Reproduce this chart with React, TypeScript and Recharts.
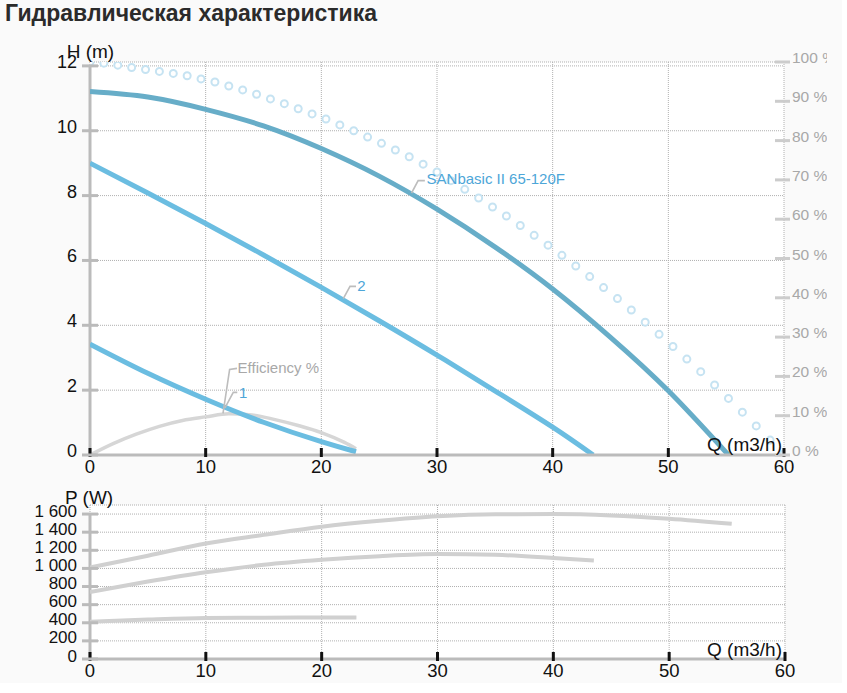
import React from 'react';
import { LineChart, Line, XAxis, YAxis, CartesianGrid, ReferenceLine, ReferenceDot } from 'recharts';

const FONT = '"Liberation Sans", Arial, sans-serif';

// ---- ticks ----
const qTicks = [0, 10, 20, 30, 40, 50, 60];
const hTicks = [0, 2, 4, 6, 8, 10, 12];
const pctTicks = [0, 10, 20, 30, 40, 50, 60, 70, 80, 90, 100];
const pTicks = [0, 200, 400, 600, 800, 1000, 1200, 1400, 1600];
const pTickLabels = ['0', '200', '400', '600', '800', '1 000', '1 200', '1 400', '1 600'];

// ---- head curves H (m) vs Q (m3/h) ----
const headMax = [
  { q: 0, h: 11.21 }, { q: 5, h: 11.04 }, { q: 10, h: 10.66 }, { q: 15, h: 10.15 },
  { q: 20, h: 9.45 }, { q: 25, h: 8.6 }, { q: 30, h: 7.58 }, { q: 35, h: 6.42 },
  { q: 40, h: 5.12 }, { q: 45, h: 3.63 }, { q: 50, h: 1.98 }, { q: 55.2, h: 0 },
];
const head2 = [
  { q: 0, h: 9.0 }, { q: 5, h: 8.08 }, { q: 10, h: 7.14 }, { q: 15, h: 6.17 },
  { q: 20, h: 5.17 }, { q: 25, h: 4.14 }, { q: 30, h: 3.08 }, { q: 35, h: 1.98 },
  { q: 40, h: 0.86 }, { q: 43.5, h: 0 },
];
const head1 = [
  { q: 0, h: 3.42 }, { q: 5, h: 2.52 }, { q: 10, h: 1.72 }, { q: 15, h: 1.01 },
  { q: 20, h: 0.41 }, { q: 23, h: 0.1 },
];

// ---- efficiency (%) ----
const eff1 = [
  { q: 0, e: 0 }, { q: 2, e: 2.9 }, { q: 4, e: 5.3 }, { q: 6, e: 7.3 }, { q: 8, e: 8.8 },
  { q: 10, e: 9.7 }, { q: 12, e: 10.5 }, { q: 14, e: 10.2 }, { q: 16, e: 9.0 },
  { q: 18, e: 7.5 }, { q: 20, e: 5.7 }, { q: 22, e: 3.2 }, { q: 23, e: 1.6 },
];
const effCircles = [
  { q: 0, e: 100 }, { q: 1.2, e: 99.7 }, { q: 2.4, e: 99.2 }, { q: 3.6, e: 98.6 }, { q: 4.8, e: 98.1 },
  { q: 6, e: 97.6 }, { q: 7.2, e: 97.1 }, { q: 8.4, e: 96.5 }, { q: 9.6, e: 95.7 }, { q: 10.8, e: 94.9 },
  { q: 12, e: 93.9 }, { q: 13.2, e: 92.9 }, { q: 14.4, e: 91.8 }, { q: 15.6, e: 90.6 }, { q: 16.8, e: 89.4 },
  { q: 18, e: 88.1 }, { q: 19.2, e: 86.8 }, { q: 20.4, e: 85.5 }, { q: 21.6, e: 84.0 }, { q: 22.8, e: 82.5 },
  { q: 24, e: 80.9 }, { q: 25.2, e: 79.3 }, { q: 26.4, e: 77.6 }, { q: 27.6, e: 75.9 }, { q: 28.8, e: 74.0 },
  { q: 30, e: 72.0 }, { q: 31.2, e: 69.8 }, { q: 32.4, e: 67.6 }, { q: 33.6, e: 65.4 }, { q: 34.8, e: 63.1 },
  { q: 36, e: 60.8 }, { q: 37.2, e: 58.4 }, { q: 38.4, e: 55.9 }, { q: 39.6, e: 53.4 }, { q: 40.8, e: 50.8 },
  { q: 42, e: 48.1 }, { q: 43.2, e: 45.4 }, { q: 44.4, e: 42.6 }, { q: 45.6, e: 39.8 }, { q: 46.8, e: 36.9 },
  { q: 48, e: 33.8 }, { q: 49.2, e: 30.7 }, { q: 50.4, e: 27.6 }, { q: 51.6, e: 24.4 }, { q: 52.8, e: 21.2 },
  { q: 54, e: 17.8 }, { q: 55.2, e: 14.4 }, { q: 56.4, e: 10.9 }, { q: 57.6, e: 7.4 }, { q: 58.8, e: 3.8 },
  { q: 60, e: 0.3 },
];

// ---- power P (W) ----
const powerMax = [
  { q: 0, p: 1010 }, { q: 5, p: 1140 }, { q: 10, p: 1275 }, { q: 15, p: 1370 },
  { q: 20, p: 1460 }, { q: 25, p: 1525 }, { q: 30, p: 1575 }, { q: 35, p: 1598 },
  { q: 40, p: 1600 }, { q: 45, p: 1585 }, { q: 50, p: 1548 }, { q: 55.4, p: 1492 },
];
const power2 = [
  { q: 0, p: 740 }, { q: 5, p: 855 }, { q: 10, p: 958 }, { q: 15, p: 1040 },
  { q: 20, p: 1095 }, { q: 25, p: 1135 }, { q: 30, p: 1158 }, { q: 35, p: 1150 },
  { q: 40, p: 1115 }, { q: 43.5, p: 1087 },
];
const power1 = [
  { q: 0, p: 412 }, { q: 5, p: 435 }, { q: 10, p: 452 }, { q: 15, p: 456 },
  { q: 20, p: 458 }, { q: 23, p: 457 },
];

// ---- label anchor points ----
const labelMax = { q: 27.8, h: 8.08, text: 'SANbasic II 65-120F' };
const label2 = { q: 21.9, h: 4.82, text: '2' };
const label1 = { q: 11.67, h: 1.45, text: '1' };
const labelEff = { q: 11.5, e: 10.6, text: 'Efficiency %' };

const LeftTick = (props: any) => {
  const { x, y, payload } = props;
  return (
    <g>
      <line x1={x - 8} x2={x + 8} y1={y} y2={y} stroke="#bbbbbb" strokeWidth={3} />
      <text x={x - 13} y={y + 2} textAnchor="end" fontSize={18} fill="#111" fontFamily={FONT}>
        {payload.value}
      </text>
    </g>
  );
};

const PowerTick = (props: any) => {
  const { x, y, payload } = props;
  const idx = pTicks.indexOf(payload.value);
  return (
    <g>
      <line x1={x - 8} x2={x + 8} y1={y} y2={y} stroke="#bbbbbb" strokeWidth={3} />
      <text x={x - 13} y={y + 2.5} textAnchor="end" fontSize={17} fill="#111" fontFamily={FONT}>
        {idx >= 0 ? pTickLabels[idx] : payload.value}
      </text>
    </g>
  );
};

const RightTick = (props: any) => {
  const { x, y, payload } = props;
  return (
    <g>
      <line x1={x - 9} x2={x + 6} y1={y} y2={y} stroke="#cccccc" strokeWidth={3} />
      <text x={x + 8} y={y + 1} textAnchor="start" fontSize={15.5} fill="#a8a8a8" fontFamily={FONT}>
        {payload.value + ' %'}
      </text>
    </g>
  );
};

const XTick = (props: any) => {
  const { x, y, payload } = props;
  return (
    <g>
      <line x1={x} x2={x} y1={y - 7} y2={y + 2} stroke="#111" strokeWidth={3} />
      <text x={x} y={y + 18} textAnchor="middle" fontSize={18.5} fill="#111" fontFamily={FONT}>
        {payload.value}
      </text>
    </g>
  );
};

const leader = (text: string, color: string, p1: [number, number], p2: [number, number], t: [number, number]) =>
  (props: any) => {
    const { cx, cy } = props;
    if (cx == null || cy == null) return <g />;
    return (
      <g>
        <polyline
          points={`${cx},${cy} ${cx + p1[0]},${cy + p1[1]} ${cx + p2[0]},${cy + p2[1]}`}
          fill="none"
          stroke="#bdbdbd"
          strokeWidth={1.6}
        />
        <text x={cx + t[0]} y={cy + t[1]} fontSize={15} fill={color} fontFamily={FONT}>
          {text}
        </text>
      </g>
    );
  };

const titleStyle = (left: number, top: number): React.CSSProperties => ({
  position: 'absolute',
  left,
  top,
  fontSize: 19,
  lineHeight: '19px',
  color: '#111',
  whiteSpace: 'nowrap',
  fontFamily: FONT,
});

export default function App() {
  return (
    <div
      style={{
        position: 'absolute',
        left: 0,
        top: 0,
        width: 842,
        height: 683,
        background: '#fafafa',
        fontFamily: FONT,
        overflow: 'hidden',
      }}
    >
      <div
        style={{
          position: 'absolute',
          left: 5,
          top: 2,
          fontSize: 23,
          lineHeight: '23px',
          fontWeight: 'bold',
          color: '#2b2b2b',
          whiteSpace: 'nowrap',
          fontFamily: FONT,
        }}
      >
        Гидравлическая характеристика
      </div>

      <div style={{ position: 'absolute', left: 0, top: 30 }}>
        <LineChart width={827} height={470} margin={{ top: 32, right: 42, bottom: 44, left: 89 }}>
          <CartesianGrid
            yAxisId="h"
            fill="#ffffff"
            fillOpacity={1}
            stroke="#b0b0b0"
            strokeDasharray="1 1"
          />
          <XAxis
            dataKey="q"
            type="number"
            domain={[0, 60]}
            ticks={qTicks}
            allowDataOverflow
            height={1}
            tickSize={0}
            tickMargin={0}
            tickLine={false}
            interval={0}
            axisLine={{ stroke: '#bbbbbb', strokeWidth: 3 }}
            tick={<XTick />}
          />
          <YAxis
            yAxisId="h"
            type="number"
            domain={[0, 12.12]}
            ticks={hTicks}
            allowDataOverflow
            width={1}
            tickSize={0}
            tickMargin={0}
            tickLine={false}
            interval={0}
            axisLine={false}
            tick={<LeftTick />}
          />
          <YAxis
            yAxisId="pct"
            orientation="right"
            type="number"
            domain={[0, 100]}
            ticks={pctTicks}
            allowDataOverflow
            width={1}
            tickSize={0}
            tickMargin={0}
            tickLine={false}
            interval={0}
            axisLine={false}
            tick={<RightTick />}
          />
          <ReferenceLine
            yAxisId="h"
            segment={[{ x: 0, y: 0 }, { x: 0, y: 12 }]}
            stroke="#bbbbbb"
            strokeWidth={3}
          />
          <Line
            yAxisId="pct"
            data={effCircles}
            dataKey="e"
            type="linear"
            stroke="none"
            dot={{ r: 3.5, stroke: '#c6e3f2', strokeWidth: 2, fill: '#ffffff' }}
            activeDot={false}
            isAnimationActive={false}
          />
          <Line
            yAxisId="pct"
            data={eff1}
            dataKey="e"
            type="monotone"
            stroke="#d6d6d6"
            strokeWidth={3.5}
            dot={false}
            activeDot={false}
            isAnimationActive={false}
          />
          <Line
            yAxisId="h"
            data={head1}
            dataKey="h"
            type="natural"
            stroke="#6bbde1"
            strokeWidth={5}
            dot={false}
            activeDot={false}
            isAnimationActive={false}
          />
          <Line
            yAxisId="h"
            data={head2}
            dataKey="h"
            type="natural"
            stroke="#6bbde1"
            strokeWidth={5}
            dot={false}
            activeDot={false}
            isAnimationActive={false}
          />
          <Line
            yAxisId="h"
            data={headMax}
            dataKey="h"
            type="natural"
            stroke="#67adc8"
            strokeWidth={5}
            dot={false}
            activeDot={false}
            isAnimationActive={false}
          />
          <ReferenceDot
            yAxisId="h"
            x={labelMax.q}
            y={labelMax.h}
            r={0}
            shape={leader(labelMax.text, '#4da6d8', [6.6, -12.4], [13.3, -12.4], [15, -9])}
          />
          <ReferenceDot
            yAxisId="h"
            x={label2.q}
            y={label2.h}
            r={0}
            shape={leader(label2.text, '#4da6d8', [6.7, -12.3], [12.7, -12.3], [14, -8])}
          />
          <ReferenceDot
            yAxisId="h"
            x={label1.q}
            y={label1.h}
            r={0}
            shape={leader(label1.text, '#4da6d8', [8.3, -15.6], [12.3, -15.6], [14, -9.5])}
          />
          <ReferenceDot
            yAxisId="pct"
            x={labelEff.q}
            y={labelEff.e}
            r={0}
            shape={leader(labelEff.text, '#a8a8a8', [6.6, -44], [14, -45], [14.6, -40])}
          />
        </LineChart>
      </div>

      <div style={{ position: 'absolute', left: 0, top: 480 }}>
        <LineChart width={827} height={203} margin={{ top: 25, right: 42, bottom: 23, left: 89 }}>
          <CartesianGrid
            yAxisId="p"
            fill="#ffffff"
            fillOpacity={1}
            stroke="#b0b0b0"
            strokeDasharray="1 1"
          />
          <XAxis
            dataKey="q"
            type="number"
            domain={[0, 60]}
            ticks={qTicks}
            allowDataOverflow
            height={1}
            tickSize={0}
            tickMargin={0}
            tickLine={false}
            interval={0}
            axisLine={{ stroke: '#bbbbbb', strokeWidth: 3 }}
            tick={<XTick />}
          />
          <YAxis
            yAxisId="p"
            type="number"
            domain={[0, 1700]}
            ticks={pTicks}
            allowDataOverflow
            width={1}
            tickSize={0}
            tickMargin={0}
            tickLine={false}
            interval={0}
            axisLine={false}
            tick={<PowerTick />}
          />
          <ReferenceLine
            yAxisId="p"
            segment={[{ x: 0, y: 0 }, { x: 0, y: 1600 }]}
            stroke="#bbbbbb"
            strokeWidth={3}
          />
          <Line
            yAxisId="p"
            data={power1}
            dataKey="p"
            type="monotone"
            stroke="#d0d0d0"
            strokeWidth={4}
            dot={false}
            activeDot={false}
            isAnimationActive={false}
          />
          <Line
            yAxisId="p"
            data={power2}
            dataKey="p"
            type="monotone"
            stroke="#d0d0d0"
            strokeWidth={4}
            dot={false}
            activeDot={false}
            isAnimationActive={false}
          />
          <Line
            yAxisId="p"
            data={powerMax}
            dataKey="p"
            type="monotone"
            stroke="#d0d0d0"
            strokeWidth={4}
            dot={false}
            activeDot={false}
            isAnimationActive={false}
          />
        </LineChart>
      </div>

      <div style={titleStyle(66.7, 42.2)}>H (m)</div>
      <div style={{ ...titleStyle(582, 435.2), width: 200, textAlign: 'right' }}>Q (m3/h)</div>
      <div style={titleStyle(65, 488.2)}>P (W)</div>
      <div style={{ ...titleStyle(582, 640.2), width: 200, textAlign: 'right' }}>Q (m3/h)</div>
    </div>
  );
}
